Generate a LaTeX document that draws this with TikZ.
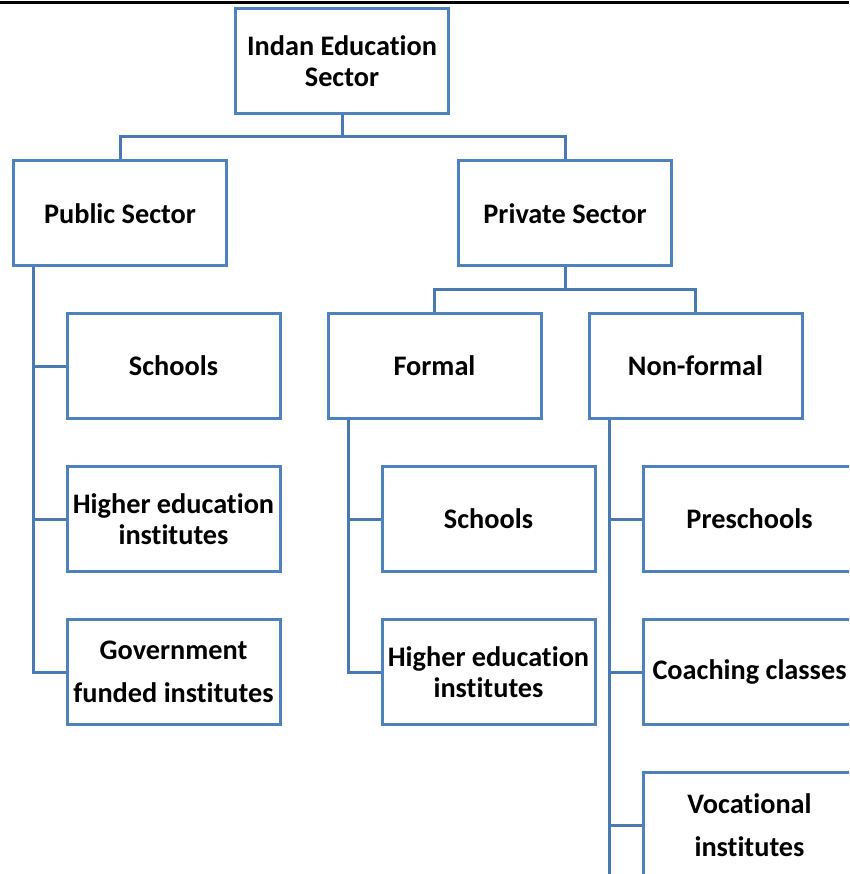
\documentclass[tikz,border=0pt]{standalone}
\usepackage{fontspec}
\setmainfont{Carlito}[Ligatures=NoCommon]
\usepackage{tikz}
\usetikzlibrary{calc,positioning}

\definecolor{boxblue}{HTML}{4F81BD}
\definecolor{lineblue}{HTML}{4A78B0}

\tikzset{
  sector/.style={draw=boxblue, line width=3pt, fill=white, minimum width=213pt,
    minimum height=105pt, align=center, inner sep=2pt,
    font=\fontsize{28.3}{31}\selectfont\bfseries},
  link/.style={draw=lineblue, line width=3pt}
}

\begin{document}
\begin{tikzpicture}[x=1pt,y=-1pt]
\useasboundingbox (0,0) rectangle (849,874);
\clip (0,0) rectangle (849,874);

% Rule at the top:
\draw [line width=3pt] (0,3) -- (849,3);

% Boxes
\node [sector] (root)  at (342,61)    {Indan Education\\Sector};
\node [sector] (pub)   at (120,213.5) {Public Sector};
\node [sector] (priv)  at (565,213.5) {Private Sector};

\node [sector] (pschool) at (173.5,366) {Schools};
\node [sector] (phigher) at (173.5,519) {Higher education\\institutes};
\node [sector] (pgov)    at (173.5,672) {Government\\[12pt]funded institutes};

\node [sector] (formal)  at (434.5,366) {Formal};
\node [sector] (nonform) at (695.5,366) {Non-formal};

\node [sector] (fschool) at (488.5,519) {Schools};
\node [sector] (fhigher) at (488.5,672) {Higher education\\institutes};

\node [sector] (npre)   at (749.5,519) {Preschools};
\node [sector] (ncoach)  at (749.5,672) {Coaching classes};
\node [sector] (nvoc)   at (749.5,825) {Vocational\\[12pt]institutes};

% Links
\draw [link] (root.south) -- ++(0,22) -| (pub.north);
\draw [link] (root.south) -- ++(0,22) -| (priv.north);
\draw [link] (priv.south) -- ++(0,22) -| (formal.north);
\draw [link] (priv.south) -- ++(0,22) -| (nonform.north);

\coordinate (ptrunk) at ([xshift=21pt]pub.south west);
\coordinate (ftrunk) at ([xshift=22pt]formal.south west);
\coordinate (ntrunk) at ([xshift=22pt]nonform.south west);

\draw [link] (ptrunk) |- (pgov.west);
\foreach \n in {pschool,phigher}
  \draw [link] (ptrunk |- \n.west) -- (\n.west);

\draw [link] (ftrunk) |- (fhigher.west);
\draw [link] (ftrunk |- fschool.west) -- (fschool.west);

\draw [link] (ntrunk) -- (ntrunk |- 0,900);
\foreach \n in {npre,ncoach,nvoc}
  \draw [link] (ntrunk |- \n.west) -- (\n.west);

\end{tikzpicture}
\end{document}
